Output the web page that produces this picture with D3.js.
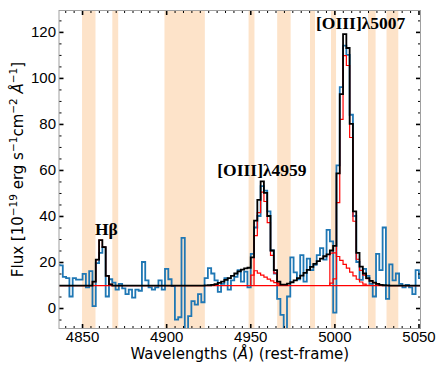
<!DOCTYPE html>
<html>
<head>
<meta charset="utf-8">
<script src="https://cdn.jsdelivr.net/npm/d3@7"></script>
<style>
body { margin: 0; background: #fff; }
</style>
</head>
<body>
<div id="chart"></div>
<script>
// spectrum binning (rest-frame Angstrom)
let lamStart = 4834.64
let lamStep = 1.96

let fluxObs = [
    18.7, 18.5, 13.5, 13.0, 5.0, 13.0, 12.3, 12.3, 14.8, 9.0,
    16.0, 0.8, 19.5, 24.0, 26.5, 5.0, 12.5, 11.0, 8.0, 10.5,
    8.5, 6.0, 8.0, 4.5, 8.0, 7.5, 20.0, 12.0, 9.0, 8.0,
    9.0, 12.0, 8.0, 17.0, 12.5, 9.5, -5.0, -4.0, 30.5, -12.0,
    -3.5, 3.0, 1.5, 6.0, 2.5, 13.0, 17.3, 15.0, 12.0, 7.0,
    10.5, 13.0, 8.0, 12.0, 13.5, 16.5, 11.5, 15.8, 9.0, 23.5,
    35.0, 40.0, 53.0, 51.0, 42.0, 25.0, 15.0, 4.0, -3.0, -12.0,
    5.0, 22.0, 15.5, 12.5, 23.0, 11.5, 21.5, 16.5, 18.8, 23.0,
    26.0, 21.0, 34.0, 29.0, -2.0, 62.0, 96.0, 114.0, 110.0, 84.0,
    40.0, 20.0, 12.2, 17.0, 14.0, 10.5, 5.0, 23.5, 16.5, 35.0,
    4.0, 19.0, 12.0, 15.0, 10.5, 9.0, 10.0, 9.0, 6.0, 16.5,
    13.0
]

let fluxModel = [
    9.7, 9.7, 9.7, 9.7, 9.7, 9.7, 9.7, 9.7, 9.7, 9.7,
    9.7, 11.5, 21.0, 29.5, 26.5, 14.0, 10.3, 9.7, 9.7, 9.7,
    9.7, 9.7, 9.7, 9.7, 9.7, 9.7, 9.7, 9.7, 9.7, 9.7,
    9.7, 9.7, 9.7, 9.7, 9.7, 9.7, 9.7, 9.7, 9.7, 9.7,
    9.7, 9.7, 9.7, 9.7, 9.7, 9.8, 9.9, 10.1, 10.4, 10.9,
    11.5, 12.2, 13.0, 14.0, 15.0, 15.9, 16.7, 17.2, 17.5, 22.0,
    38.0, 47.0, 55.0, 50.0, 40.0, 25.0, 16.5, 11.5, 10.2, 10.2,
    10.6, 11.2, 12.0, 13.0, 14.1, 15.3, 16.6, 17.9, 19.2, 20.4,
    21.5, 22.5, 23.3, 25.0, 27.0, 58.5, 93.0, 119.0, 113.0, 80.0,
    42.0, 24.0, 18.0, 15.0, 13.0, 11.8, 11.0, 10.5, 10.1, 9.9,
    9.8, 9.7, 9.7, 9.7, 9.7, 9.7, 9.7, 9.7, 9.7, 9.7,
    9.7
]

let continuum = 9.7

// fitted components, continuum included
let hbNarrowStart = 4856.2
let hbNarrow = [11.5, 21.0, 29.5, 26.5, 14.0, 10.3]

let o4959NarrowStart = 4950.28
let o4959Narrow = [14.3, 31.5, 41.5, 50.4, 46.3, 37.1, 22.9, 15.2, 10.8]
let o4959BroadStart = 4952.24
let o4959Broad = [16.2, 15.2, 14.3, 13.4, 12.6, 11.8, 11.0, 10.4, 10.0, 9.8]

let o5007Start = 4997.32
let o5007Narrow = [10.8, 12.7, 45.8, 82.0, 109.7, 105.4, 74.1, 37.7, 21.2, 16.4, 14.3, 12.8, 11.8, 11.0, 10.5, 10.1]
let o5007Broad = [23.9, 24.0, 22.4, 20.7, 19.0, 17.3, 15.6, 14.0, 12.5, 11.3, 10.4, 9.9]

let maskBands = [
    [4850, 4858], [4868, 4871.5], [4899, 4923], [4949, 4952.5], [4966, 4974],
    [4985.5, 4988.5], [4998, 5001], [5020, 5024.5], [5031, 5038]
]

let xTicks = [4850, 4900, 4950, 5000, 5050]
let yTicks = [0, 20, 40, 60, 80, 100, 120]

let lineLabels = [
    ["Hβ", 4857.7, 31.7],
    ["[OIII]λ4959", 4930.4, 57.4],
    ["[OIII]λ5007", 4989.1, 121.3]
]

let width = 448
let height = 368
let margin = { top: 10.5, right: 27.5, bottom: 39.5, left: 59 }

let x = d3.scaleLinear().domain([4836.3, 5051.2]).range([margin.left, width - margin.right])
let y = d3.scaleLinear().domain([-8.9, 129.3]).range([height - margin.bottom, margin.top])

let svg = d3.select("#chart")
    .append("svg")
    .attr("width", width)
    .attr("height", height)
    .style("font-family", "'DejaVu Sans', sans-serif")

svg.append("clipPath")
    .attr("id", "plot-clip")
    .append("rect")
    .attr("x", margin.left)
    .attr("y", margin.top)
    .attr("width", width - margin.left - margin.right)
    .attr("height", height - margin.top - margin.bottom)

let plot = svg.append("g").attr("clip-path", "url(#plot-clip)")

plot.selectAll(".band")
    .data(maskBands)
    .enter()
    .append("rect")
    .attr("class", "band")
    .attr("x", d => x(d[0]))
    .attr("width", d => x(d[1]) - x(d[0]))
    .attr("y", margin.top)
    .attr("height", height - margin.top - margin.bottom)
    .attr("fill", "#fde3c9")

stepPoints = (start, values, base) => {
    let pts = []
    if (base != null) pts.push([start, base])
    values.forEach((v, i) => {
        pts.push([start + i * lamStep, v])
        pts.push([start + (i + 1) * lamStep, v])
    })
    if (base != null) pts.push([start + values.length * lamStep, base])
    return pts
}

let line = d3.line().x(d => x(d[0])).y(d => y(d[1]))

plot.append("path")
    .attr("d", line(stepPoints(lamStart, fluxObs)))
    .attr("fill", "none")
    .attr("stroke", "#1f77b4")
    .attr("stroke-width", 1.8)
    .attr("stroke-linejoin", "miter")

plot.append("path")
    .attr("d", line([[x.domain()[0], continuum], [x.domain()[1], continuum]]))
    .attr("fill", "none")
    .attr("stroke", "red")
    .attr("stroke-width", 1.2)

let comps = [
    [hbNarrowStart, hbNarrow],
    [o4959NarrowStart, o4959Narrow],
    [o4959BroadStart, o4959Broad],
    [o5007Start, o5007Narrow],
    [o5007Start, o5007Broad]
]

comps.forEach(c => {
    plot.append("path")
        .attr("d", line(stepPoints(c[0], c[1], continuum)))
        .attr("fill", "none")
        .attr("stroke", "red")
        .attr("stroke-width", 1.2)
})

plot.append("path")
    .attr("d", line(stepPoints(lamStart, fluxModel)))
    .attr("fill", "none")
    .attr("stroke", "black")
    .attr("stroke-width", 1.8)

// axes: ticks pointing inward on all four sides
let bottom = height - margin.bottom
let right = width - margin.right

let xMinor = d3.range(4840, 5051, 5).filter(v => xTicks.indexOf(v) < 0)
let yMinor = d3.range(-5, 129, 5).filter(v => yTicks.indexOf(v) < 0)

let axes = [
    [d3.axisBottom(x).tickValues(xTicks).tickFormat(d3.format("d")), `translate(0,${bottom})`, true],
    [d3.axisTop(x).tickValues(xTicks).tickFormat(""), `translate(0,${margin.top})`, true],
    [d3.axisLeft(y).tickValues(yTicks).tickFormat(d3.format("d")), `translate(${margin.left},0)`, true],
    [d3.axisRight(y).tickValues(yTicks).tickFormat(""), `translate(${right},0)`, true],
    [d3.axisBottom(x).tickValues(xMinor).tickFormat(""), `translate(0,${bottom})`, false],
    [d3.axisTop(x).tickValues(xMinor).tickFormat(""), `translate(0,${margin.top})`, false],
    [d3.axisLeft(y).tickValues(yMinor).tickFormat(""), `translate(${margin.left},0)`, false],
    [d3.axisRight(y).tickValues(yMinor).tickFormat(""), `translate(${right},0)`, false]
]

axes.forEach(a => {
    let g = svg.append("g")
        .attr("transform", a[1])
        .call(a[0].tickSize(a[2] ? -4.5 : -2.5).tickPadding(a[2] ? 3 : 0))
    g.select(".domain").remove()
    g.selectAll("line").attr("stroke", "black").attr("stroke-width", a[2] ? 1.6 : 1)
    g.selectAll("text").style("font-size", "15px").attr("fill", "black")
})

svg.append("rect")
    .attr("x", margin.left)
    .attr("y", margin.top)
    .attr("width", right - margin.left)
    .attr("height", bottom - margin.top)
    .attr("fill", "none")
    .attr("stroke", "#a0a0a0")
    .attr("stroke-width", 1)

let xLabel = svg.append("text")
    .attr("x", (margin.left + right) / 2)
    .attr("y", 359)
    .attr("text-anchor", "middle")
    .style("font-size", "15px")
xLabel.append("tspan").text("Wavelengths (")
xLabel.append("tspan").style("font-style", "italic").text("Å")
xLabel.append("tspan").text(") (rest-frame)")

let yLabel = svg.append("text")
    .attr("transform", `translate(23,${(margin.top + bottom) / 2}) rotate(-90)`)
    .attr("text-anchor", "middle")
    .style("font-size", "15px")
let yParts = [["Flux [10", 0], ["−19", 1], [" erg s", 0], ["−1", 1], ["cm", 0], ["−2", 1], [" ", 0], ["Å", 2], ["−1", 1], ["]", 0]]
let shifted = false
yParts.forEach(p => {
    let t = yLabel.append("tspan").text(p[0])
    if (p[1] == 1) {
        t.attr("dy", -6).style("font-size", "10.5px")
        shifted = true
    } else {
        if (shifted) t.attr("dy", 6)
        shifted = false
        if (p[1] == 2) t.style("font-style", "italic")
    }
})

svg.selectAll(".line-label")
    .data(lineLabels)
    .enter()
    .append("text")
    .attr("class", "line-label")
    .attr("x", d => x(d[1]))
    .attr("y", d => y(d[2]))
    .style("font-family", "'Liberation Serif', serif")
    .style("font-weight", "bold")
    .style("font-size", "17.5px")
    .text(d => d[0])
</script>
</body>
</html>
